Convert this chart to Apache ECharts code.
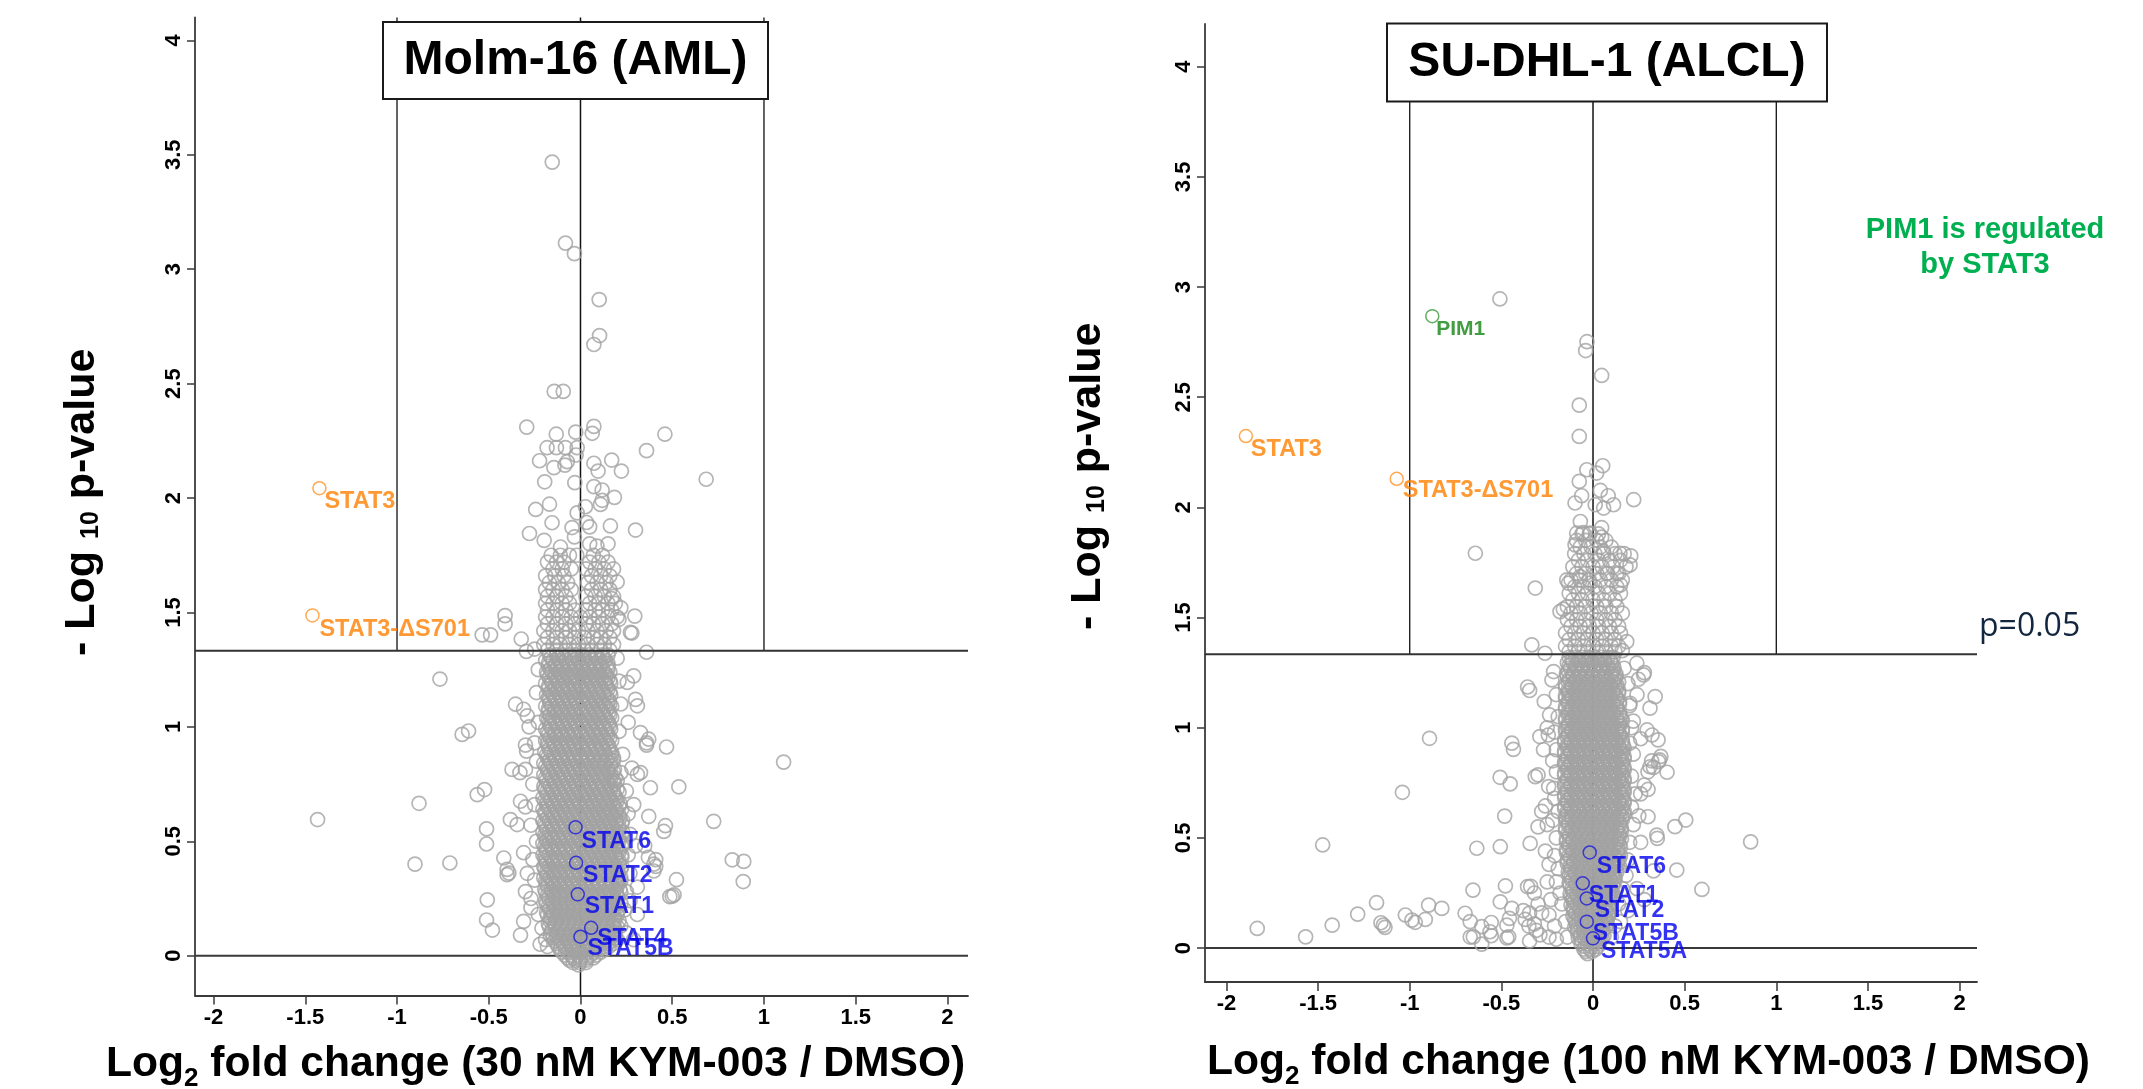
<!DOCTYPE html>
<html><head><meta charset="utf-8">
<script src="https://cdn.jsdelivr.net/npm/echarts@6/dist/echarts.min.js"></script>
<style>html,body{margin:0;padding:0;background:#fff}#c{width:2143px;height:1089px}</style>
</head><body><div id="c"></div>
<script>
// ================= DATA =================
const xTicks = [-2,-1.5,-1,-0.5,0,0.5,1,1.5,2];
const yTicks = [0,0.5,1,1.5,2,2.5,3,3.5,4];
const sigLineY = 1.333;          // p = 0.05 line as drawn
const fcLines = [-1, 1];         // fold-change guide lines
const titles = ['Molm-16 (AML)', 'SU-DHL-1 (ALCL)'];

// ---- Molm-16 : individual points ----
const molmOutliers = [
 [-0.154,3.468],[-0.082,3.114],[-0.033,3.068],[0.102,2.867],[0.104,2.71],[0.073,2.671],
 [-0.143,2.466],[-0.094,2.466],[-0.293,2.31],[-0.132,2.279],[-0.026,2.288],[0.073,2.313],[0.064,2.283],[0.46,2.279],[0.36,2.207],[0.685,2.082],
 [-0.182,2.22],[-0.131,2.22],[-0.082,2.22],[-0.018,2.22],[-0.223,2.163],[-0.145,2.133],[-0.085,2.144],[-0.072,2.159],[-0.024,2.188],[0.073,2.152],[0.096,2.118],[0.17,2.166],[0.223,2.118],
 [-0.195,2.071],[-0.031,2.067],[0.073,2.05],[0.118,2.035],[-0.244,1.95],[-0.169,1.973],[-0.018,1.935],[0.027,1.962],[0.109,1.972],[0.118,1.99],[0.185,2.003],
 [-0.155,1.892],[-0.046,1.871],[0.033,1.893],[0.05,1.874],[0.163,1.878],[0.3,1.86],[-0.278,1.845],[-0.198,1.815],[-0.109,1.786],[-0.033,1.83],[0.05,1.8],[0.09,1.79],[0.15,1.8],
 [0.2,1.633],[-0.411,1.486],[-0.411,1.45],[-0.536,1.402],[-0.49,1.402],[0.296,1.484],[0.272,1.413],[0.36,1.326],[-0.323,1.384],[-0.295,1.33],[-0.25,1.34],[0.28,1.41],[0.21,1.47],[0.22,1.52],[0.17,1.56],
 [-0.766,1.209],[0.29,1.223],[0.255,1.194],[0.31,1.092],[0.3,1.12],[-0.354,1.099],[-0.31,1.077],[-0.29,1.048],[-0.645,0.967],[-0.61,0.982],
 [-0.294,0.894],[-0.373,0.814],[-0.3,0.814],[-0.563,0.704],[-0.523,0.726],[-0.327,0.675],[-0.382,0.595],[-0.345,0.573],[-0.512,0.554],[-0.512,0.488],
 [-0.712,0.405],[-0.418,0.427],[-0.39,0.361],[-0.508,0.244],[-0.512,0.156],[-0.48,0.112],[-0.327,0.09],[-0.27,0.21],[-0.3,0.28],[-0.22,0.05],[-0.18,0.04],
 [0.469,0.912],[0.327,0.975],[0.372,0.946],[0.31,0.792],[0.327,0.8],[0.381,0.734],[0.536,0.738],[0.372,0.609],[0.463,0.568],[0.454,0.543],[0.726,0.587],
 [0.827,0.419],[0.89,0.412],[0.887,0.324],[0.41,0.42],[0.41,0.39],[0.523,0.332],[0.487,0.258],[0.51,0.266],[0.35,0.48],[0.37,0.43],[0.27,0.24],[0.31,0.18],[0.25,0.1],[0.29,0.07],
 [1.107,0.846],[-1.433,0.595],[-0.88,0.666],[-0.902,0.4],[-0.4,0.377],[-0.4,0.354],[0.36,0.93],[0.36,0.92],[0.4,0.4],[0.4,0.37],[0.5,0.26]
];
const molmHalo = [
 [-0.23,1.25],[-0.24,1.15],[-0.23,1.02],[-0.25,0.93],[-0.24,0.85],[-0.26,0.75],[-0.25,0.66],[-0.27,0.57],[-0.24,0.5],[-0.26,0.42],[-0.25,0.33],[-0.27,0.25],
 [-0.23,0.18],[-0.21,0.12],[-0.19,0.07],[-0.3,0.65],[-0.31,0.45],[-0.29,0.36],[-0.31,0.15],[-0.28,1.0],[-0.3,0.92],[-0.33,0.8],
 [0.2,1.3],[0.21,1.2],[0.22,1.1],[0.21,0.98],[0.23,0.88],[0.22,0.8],[0.25,0.72],[0.26,0.62],[0.27,0.53],[0.26,0.44],[0.27,0.36],[0.25,0.28],[0.24,0.2],
 [0.22,0.13],[0.2,0.07],[0.29,0.66],[0.3,0.48],[0.31,0.3],[0.26,1.02],[0.28,0.82]
];
// semi-dense band above the p line: [y, [x...]]
const molmBandRows = [
 [1.75,[-0.16,-0.11,-0.06,-0.02,0.07,0.12]],
 [1.72,[-0.18,-0.13,-0.09,0.05,0.1,0.15]],
 [1.69,[-0.15,-0.1,-0.05,0.03,0.08,0.13,0.18]],
 [1.66,[-0.19,-0.14,-0.09,0.06,0.11,0.16]],
 [1.63,[-0.17,-0.12,-0.07,0.04,0.09,0.14]],
 [1.60,[-0.19,-0.15,-0.1,-0.05,0.06,0.11,0.16]],
 [1.57,[-0.18,-0.13,-0.08,0.03,0.08,0.13,0.18]],
 [1.54,[-0.19,-0.15,-0.1,-0.06,0.05,0.1,0.15,0.19]],
 [1.51,[-0.18,-0.13,-0.08,-0.03,0.03,0.08,0.12,0.17]],
 [1.48,[-0.19,-0.15,-0.1,-0.05,0.0,0.05,0.1,0.15,0.2]],
 [1.45,[-0.18,-0.13,-0.08,-0.03,0.03,0.07,0.12,0.17]],
 [1.42,[-0.2,-0.15,-0.1,-0.06,-0.01,0.04,0.09,0.14,0.18]],
 [1.39,[-0.18,-0.13,-0.08,-0.03,0.02,0.07,0.11,0.16]],
 [1.36,[-0.2,-0.15,-0.11,-0.06,-0.01,0.04,0.09,0.13,0.18]],
 [1.335,[-0.18,-0.13,-0.08,-0.03,0.02,0.06,0.11,0.16]]
];
// dense core below the p line (heavily overlapping points): [y, [x...]]
const molmCoreRows = [
 [1.315,[-.17,-.13,-.1,-.06,-.03,.01,.045,.08,.12,.15]],
 [1.29,[-.19,-.15,-.115,-.08,-.045,-.01,.025,.06,.1,.135]],
 [1.265,[-.175,-.14,-.105,-.065,-.03,.005,.04,.075,.11,.15]],
 [1.24,[-.185,-.155,-.12,-.085,-.05,-.015,.02,.055,.095,.13,.16]],
 [1.215,[-.17,-.135,-.1,-.06,-.03,.01,.045,.08,.115,.15]],
 [1.19,[-.19,-.155,-.12,-.08,-.045,-.01,.025,.06,.1,.135,.165]],
 [1.165,[-.175,-.14,-.1,-.065,-.03,.005,.04,.08,.115,.15]],
 [1.14,[-.185,-.15,-.115,-.08,-.045,-.015,.02,.06,.095,.13,.165]],
 [1.115,[-.17,-.135,-.1,-.06,-.025,.01,.045,.08,.115,.155]],
 [1.09,[-.19,-.155,-.12,-.085,-.05,-.01,.025,.065,.1,.135,.17]],
 [1.065,[-.175,-.14,-.105,-.065,-.03,.005,.04,.08,.12,.155]],
 [1.04,[-.185,-.15,-.115,-.08,-.045,-.01,.025,.06,.1,.135,.17]],
 [1.015,[-.17,-.135,-.1,-.06,-.025,.01,.045,.085,.12,.155]],
 [0.99,[-.19,-.155,-.12,-.08,-.045,-.01,.025,.065,.1,.135,.165]],
 [0.965,[-.175,-.14,-.105,-.07,-.03,.005,.04,.08,.115,.15]],
 [0.94,[-.19,-.15,-.115,-.08,-.045,-.01,.025,.06,.1,.135,.17]],
 [0.915,[-.175,-.14,-.1,-.065,-.03,.01,.045,.08,.12,.155]],
 [0.89,[-.195,-.16,-.12,-.085,-.05,-.015,.02,.06,.095,.13,.17]],
 [0.865,[-.18,-.14,-.105,-.07,-.035,.005,.04,.075,.115,.15,.18]],
 [0.84,[-.2,-.16,-.125,-.09,-.05,-.015,.02,.055,.095,.13,.165]],
 [0.815,[-.18,-.145,-.11,-.07,-.035,0,.04,.075,.11,.15,.185]],
 [0.79,[-.2,-.165,-.125,-.09,-.055,-.02,.02,.055,.09,.13,.165]],
 [0.765,[-.185,-.145,-.11,-.075,-.04,0,.035,.07,.11,.145,.18,.2]],
 [0.74,[-.2,-.165,-.13,-.09,-.055,-.02,.015,.055,.09,.125,.165]],
 [0.715,[-.185,-.15,-.11,-.075,-.04,0,.035,.07,.11,.145,.18,.21]],
 [0.69,[-.205,-.165,-.13,-.095,-.06,-.02,.015,.05,.09,.125,.16,.195]],
 [0.665,[-.185,-.15,-.115,-.075,-.04,-.005,.035,.07,.105,.145,.18,.215]],
 [0.64,[-.205,-.17,-.13,-.095,-.06,-.025,.015,.05,.085,.125,.16,.195,.225]],
 [0.615,[-.19,-.15,-.115,-.08,-.04,-.005,.03,.07,.105,.14,.175,.21]],
 [0.59,[-.205,-.17,-.135,-.1,-.06,-.025,.01,.05,.085,.12,.16,.195,.23]],
 [0.565,[-.19,-.155,-.115,-.08,-.045,-.005,.03,.065,.105,.14,.175,.21]],
 [0.54,[-.205,-.17,-.135,-.1,-.06,-.025,.01,.045,.085,.12,.155,.195,.23]],
 [0.515,[-.19,-.155,-.12,-.08,-.045,-.01,.03,.065,.1,.14,.175,.21]],
 [0.49,[-.205,-.17,-.135,-.1,-.065,-.025,.01,.045,.085,.12,.155,.19,.23]],
 [0.465,[-.19,-.155,-.12,-.08,-.045,-.01,.025,.065,.1,.135,.175,.21]],
 [0.44,[-.205,-.17,-.135,-.1,-.065,-.03,.01,.045,.08,.12,.155,.19,.225]],
 [0.415,[-.19,-.155,-.12,-.085,-.045,-.01,.025,.06,.1,.135,.17,.21]],
 [0.39,[-.2,-.17,-.135,-.1,-.065,-.03,.005,.045,.08,.115,.155,.19,.225]],
 [0.365,[-.185,-.15,-.115,-.08,-.045,-.01,.025,.06,.1,.135,.17,.205]],
 [0.34,[-.2,-.165,-.13,-.1,-.065,-.03,.005,.04,.08,.115,.15,.19,.22]],
 [0.315,[-.185,-.15,-.115,-.08,-.045,-.01,.025,.06,.095,.135,.17,.205]],
 [0.29,[-.195,-.16,-.13,-.095,-.06,-.025,.01,.045,.08,.115,.155,.19,.215]],
 [0.265,[-.18,-.145,-.11,-.075,-.04,-.005,.03,.065,.1,.135,.17,.2]],
 [0.24,[-.19,-.155,-.12,-.085,-.05,-.015,.02,.055,.09,.125,.16,.195]],
 [0.215,[-.175,-.14,-.105,-.07,-.035,0,.035,.07,.105,.14,.175,.205]],
 [0.19,[-.185,-.15,-.115,-.08,-.045,-.01,.025,.06,.095,.13,.165,.2]],
 [0.165,[-.165,-.13,-.095,-.06,-.025,.01,.045,.08,.115,.15,.185]],
 [0.14,[-.175,-.14,-.105,-.07,-.035,0,.035,.07,.105,.14,.175]],
 [0.115,[-.155,-.12,-.085,-.05,-.015,.02,.055,.09,.125,.16,.19]],
 [0.09,[-.165,-.13,-.095,-.06,-.025,.01,.045,.08,.115,.15,.185]],
 [0.065,[-.14,-.105,-.07,-.035,0,.035,.07,.105,.14,.17]],
 [0.04,[-.12,-.085,-.05,-.015,.02,.055,.09,.125,.155]],
 [0.015,[-.1,-.065,-.03,.005,.04,.075,.11]],
 [-0.01,[-.07,-.035,0,.035,.07]],
 [-0.03,[-.04,-.005,.03]]
];
const molmCoreRows2 = [
 [1.3025,[-.16,-.12,-.085,-.05,-.015,.02,.055,.09,.125]],
 [1.2775,[-.175,-.135,-.1,-.06,-.025,.01,.045,.08,.115,.15]],
 [1.2525,[-.165,-.13,-.095,-.055,-.02,.015,.05,.085,.12,.15]],
 [1.2275,[-.18,-.14,-.105,-.07,-.035,0,.035,.07,.105,.14]],
 [1.2025,[-.16,-.125,-.09,-.05,-.015,.02,.055,.095,.13,.16]],
 [1.1775,[-.175,-.14,-.1,-.065,-.03,.005,.04,.075,.11,.145]],
 [1.1525,[-.16,-.125,-.09,-.055,-.02,.015,.05,.09,.125,.16]],
 [1.1275,[-.175,-.14,-.105,-.07,-.035,0,.035,.07,.105,.145]],
 [1.1025,[-.165,-.125,-.09,-.055,-.02,.015,.05,.09,.125,.16]],
 [1.0775,[-.175,-.14,-.105,-.07,-.035,0,.035,.07,.11,.145]],
 [1.0525,[-.165,-.125,-.09,-.055,-.02,.015,.05,.09,.125,.16]],
 [1.0275,[-.175,-.14,-.105,-.07,-.035,0,.035,.07,.11,.145]],
 [1.0025,[-.165,-.125,-.09,-.055,-.02,.015,.05,.09,.125,.16]],
 [0.9775,[-.18,-.14,-.105,-.07,-.035,0,.035,.07,.11,.145]],
 [0.9525,[-.165,-.13,-.095,-.055,-.02,.015,.05,.09,.125,.16]],
 [0.9275,[-.18,-.145,-.105,-.07,-.035,0,.035,.07,.11,.145]],
 [0.9025,[-.17,-.13,-.095,-.06,-.025,.01,.045,.085,.12,.155]],
 [0.8775,[-.185,-.145,-.11,-.075,-.04,-.005,.03,.065,.1,.135,.17]],
 [0.8525,[-.17,-.135,-.1,-.065,-.03,.005,.04,.075,.11,.145,.18]],
 [0.8275,[-.19,-.15,-.115,-.08,-.045,-.01,.025,.06,.095,.13,.165]],
 [0.8025,[-.175,-.135,-.1,-.065,-.03,.005,.04,.075,.115,.15,.18]],
 [0.7775,[-.19,-.155,-.12,-.085,-.05,-.01,.025,.06,.095,.13,.165,.19]],
 [0.7525,[-.175,-.14,-.1,-.065,-.03,.005,.045,.08,.115,.15,.185]],
 [0.7275,[-.195,-.155,-.12,-.085,-.05,-.015,.02,.06,.095,.13,.165,.2]],
 [0.7025,[-.18,-.14,-.105,-.07,-.035,.005,.04,.075,.11,.15,.185]],
 [0.6775,[-.195,-.16,-.125,-.09,-.05,-.015,.02,.055,.09,.125,.165,.2]],
 [0.6525,[-.18,-.145,-.11,-.075,-.04,0,.035,.07,.105,.145,.18,.21]],
 [0.6275,[-.195,-.16,-.125,-.09,-.055,-.02,.02,.055,.09,.125,.16,.195]],
 [0.6025,[-.18,-.145,-.11,-.075,-.04,0,.035,.07,.105,.14,.18,.215]],
 [0.5775,[-.195,-.16,-.125,-.09,-.055,-.02,.015,.05,.09,.125,.16,.195,.225]],
 [0.5525,[-.185,-.15,-.11,-.075,-.04,-.005,.03,.07,.105,.14,.175,.21]],
 [0.5275,[-.195,-.16,-.125,-.09,-.055,-.02,.015,.05,.085,.125,.16,.195,.225]],
 [0.5025,[-.185,-.15,-.115,-.075,-.04,-.005,.03,.065,.1,.14,.175,.21]],
 [0.4775,[-.195,-.16,-.125,-.09,-.055,-.02,.015,.05,.085,.12,.16,.195,.225]],
 [0.4525,[-.185,-.15,-.115,-.08,-.04,-.005,.03,.065,.1,.14,.175,.21]],
 [0.4275,[-.195,-.16,-.125,-.09,-.055,-.02,.015,.05,.085,.12,.155,.195,.225]],
 [0.4025,[-.185,-.15,-.115,-.08,-.04,-.005,.03,.065,.1,.135,.17,.21]],
 [0.3775,[-.195,-.16,-.125,-.09,-.055,-.02,.015,.05,.085,.12,.155,.19,.22]],
 [0.3525,[-.18,-.145,-.11,-.075,-.04,-.005,.03,.065,.1,.135,.17,.205]],
 [0.3275,[-.19,-.155,-.12,-.085,-.05,-.015,.02,.055,.09,.125,.16,.195,.22]],
 [0.3025,[-.18,-.145,-.11,-.075,-.04,-.005,.03,.065,.1,.135,.17,.2]],
 [0.2775,[-.19,-.155,-.12,-.085,-.05,-.015,.02,.055,.09,.125,.16,.195,.22]],
 [0.2525,[-.175,-.14,-.105,-.07,-.035,0,.035,.07,.105,.14,.175,.205]],
 [0.2275,[-.185,-.15,-.115,-.08,-.045,-.01,.025,.06,.095,.13,.165,.2,.22]],
 [0.2025,[-.17,-.135,-.1,-.065,-.03,.005,.04,.075,.11,.145,.18,.21]],
 [0.1775,[-.18,-.145,-.11,-.075,-.04,-.005,.03,.065,.1,.135,.17,.2]],
 [0.1525,[-.165,-.13,-.095,-.06,-.025,.01,.045,.08,.115,.15,.185,.21]],
 [0.1275,[-.17,-.135,-.1,-.065,-.03,.005,.04,.075,.11,.145,.18,.2]],
 [0.1025,[-.16,-.125,-.09,-.055,-.02,.015,.05,.085,.12,.155,.19]],
 [0.0775,[-.15,-.115,-.08,-.045,-.01,.025,.06,.095,.13,.165,.19]],
 [0.0525,[-.13,-.095,-.06,-.025,.01,.045,.08,.115,.15,.175]],
 [0.0275,[-.11,-.075,-.04,-.005,.03,.065,.1,.135]],
 [0.0025,[-.085,-.05,-.015,.02,.055,.085]],
 [-0.02,[-.06,-.03,0,.03]],
 [-0.04,[-.01]]
];
// highlighted genes: [name, x, y, colour group]
const molmHighlights = [
 ['STAT3',-1.423,2.043,'orange'],['STAT3-\u0394S701',-1.461,1.487,'orange'],
 ['STAT6',-0.027,0.561,'blue'],['STAT2',-0.024,0.406,'blue'],['STAT1',-0.015,0.268,'blue'],
 ['STAT4',0.058,0.122,'blue'],['STAT5B',0.0,0.083,'blue']
];

// ---- SU-DHL-1 : individual points ----
const sudhlOutliers = [
 [-0.508,2.946],[-0.033,2.752],[-0.04,2.712],[0.047,2.599],[-0.075,2.464],[-0.075,2.322],[-0.034,2.171],[0.02,2.156],[0.053,2.189],[-0.075,2.118],
 [-0.062,2.053],[-0.098,2.02],[0.04,2.077],[0.083,2.053],[0.012,2.012],[0.058,1.997],[0.112,2.012],[0.222,2.035],[-0.069,1.936],[-0.089,1.883],
 [-0.053,1.886],[-0.015,1.883],[0.047,1.908],[0.047,1.865],[-0.098,1.83],[-0.642,1.792],[0.056,1.8],[0.147,1.792],[0.206,1.78],[0.202,1.739],
 [-0.143,1.671],[-0.134,1.656],[-0.07,1.686],[-0.015,1.656],[0.075,1.701],[0.13,1.701],[0.15,1.648],[-0.162,1.538],[-0.18,1.527],[-0.315,1.634],
 [-0.334,1.376],[-0.262,1.338],[0.184,1.391],[0.239,1.293],[0.276,1.24],[0.248,1.22],[-0.215,1.255],[-0.224,1.217],[-0.357,1.185],[-0.346,1.169],
 [-0.266,1.119],[-0.237,1.058],[-0.892,0.952],[-0.443,0.93],[-0.434,0.902],[-0.29,0.96],[-0.244,0.967],[0.339,1.141],[0.311,1.089],[0.202,1.111],
 [0.295,0.99],[0.322,0.967],[0.355,0.945],[0.22,1.03],[0.363,0.854],[0.404,0.798],[0.3,0.8],[0.32,0.85],[0.28,0.74],[-0.507,0.775],[-0.452,0.745],
 [-0.315,0.778],[-0.3,0.786],[-0.242,0.733],[-0.215,0.725],[-0.482,0.599],[-0.26,0.645],[0.447,0.551],[0.506,0.581],[0.3,0.596],[0.348,0.513],
 [-0.3,0.55],[-0.25,0.56],[-0.343,0.475],[-0.506,0.46],[-0.634,0.453],[-0.655,0.263],[-0.478,0.282],[-0.506,0.21],[-0.607,0.097],[-0.562,0.074],
 [-0.653,0.051],[-0.607,0.018],[-0.47,0.104],[-0.456,0.135],[-0.443,0.18],[-0.47,0.046],[-0.34,0.28],[-0.32,0.25],[-0.3,0.2],[-0.28,0.16],
 [-0.32,0.11],[-0.31,0.08],[-0.29,0.06],[-0.38,0.17],[-0.37,0.13],[-0.35,0.1],[-0.24,0.15],[-0.21,0.1],[-0.24,0.05],[-0.2,0.04],
 [0.457,0.354],[0.594,0.266],[0.351,0.498],[0.357,0.846],[0.311,0.823],[0.26,0.7],[0.3,0.72],[0.26,0.48],[0.33,0.35],[0.24,0.27],[0.28,0.22],[0.19,0.17],[0.15,0.12],
 [-1.04,0.707],[-1.475,0.468],[-1.832,0.089],[-1.568,0.051],[-1.423,0.104],[-1.284,0.154],[-1.181,0.206],[-1.157,0.115],[-1.144,0.104],[-1.135,0.094],
 [-1.024,0.15],[-0.988,0.127],[-0.97,0.117],[-0.915,0.13],[-0.897,0.195],[-0.825,0.18],[-0.698,0.158],[-0.67,0.12],[-0.67,0.05],[0.86,0.482],
 [-0.357,0.279],[-0.555,0.116],[-0.555,0.056],[-0.46,0.051],[-0.346,0.032],[-0.346,0.159],[0.37,0.87],[0.33,0.82],[0.28,1.25]
];
const sudhlHalo = [
 [-0.2,1.15],[-0.19,1.05],[-0.21,0.98],[-0.2,0.9],[-0.22,0.85],[-0.2,0.8],[-0.21,0.68],[-0.19,0.62],[-0.22,0.58],[-0.2,0.5],[-0.21,0.42],[-0.19,0.36],
 [-0.2,0.3],[-0.18,0.25],[-0.17,0.2],[-0.15,0.12],[-0.14,0.05],[-0.26,0.44],[-0.24,0.38],[-0.25,0.3],[-0.23,0.22],[-0.27,0.9],[-0.25,1.0],[-0.28,0.62],
 [0.19,1.2],[0.2,1.1],[0.21,1.0],[0.2,0.93],[0.22,0.88],[0.21,0.78],[0.23,0.7],[0.21,0.64],[0.22,0.56],[0.2,0.48],[0.19,0.4],[0.18,0.33],[0.16,0.27],
 [0.14,0.2],[0.12,0.1],[0.1,0.05],[0.25,0.6],[0.26,0.95],[0.24,1.15],[0.17,1.27],[0.16,1.35]
];
const sudhlBandRows = [
 [1.88,[-0.06,-0.02,0.03]],
 [1.85,[-0.09,-0.04,0.02,0.07]],
 [1.82,[-0.07,-0.01,0.04,0.1]],
 [1.79,[-0.1,-0.05,0.01,0.06,0.12,0.17]],
 [1.76,[-0.08,-0.03,0.03,0.09,0.15]],
 [1.73,[-0.11,-0.06,0.0,0.05,0.11,0.18]],
 [1.70,[-0.09,-0.04,0.02,0.08,0.14]],
 [1.67,[-0.12,-0.07,-0.02,0.04,0.1,0.16]],
 [1.64,[-0.1,-0.05,0.01,0.07,0.13]],
 [1.61,[-0.13,-0.08,-0.03,0.03,0.09,0.15]],
 [1.58,[-0.11,-0.06,0.0,0.06,0.12]],
 [1.55,[-0.14,-0.09,-0.04,0.02,0.07,0.13]],
 [1.52,[-0.12,-0.07,-0.01,0.04,0.1,0.16]],
 [1.49,[-0.14,-0.09,-0.04,0.02,0.07,0.12]],
 [1.46,[-0.12,-0.07,-0.02,0.03,0.09,0.14]],
 [1.43,[-0.15,-0.1,-0.05,0.0,0.05,0.1,0.15]],
 [1.40,[-0.13,-0.08,-0.03,0.02,0.07,0.12]],
 [1.37,[-0.15,-0.1,-0.05,0.0,0.05,0.1,0.14]],
 [1.345,[-0.13,-0.08,-0.03,0.02,0.07,0.12]]
];
const sudhlCoreRows = [
 [1.32,[-.13,-.095,-.06,-.025,.01,.045,.08,.11]],
 [1.295,[-.14,-.11,-.075,-.04,-.005,.03,.065,.1]],
 [1.27,[-.125,-.09,-.055,-.02,.015,.05,.085,.115]],
 [1.245,[-.145,-.11,-.075,-.04,-.005,.03,.065,.1,.125]],
 [1.22,[-.13,-.095,-.06,-.025,.01,.045,.08,.115]],
 [1.195,[-.15,-.115,-.08,-.045,-.01,.025,.06,.095,.13]],
 [1.17,[-.135,-.1,-.065,-.03,.005,.04,.075,.11,.14]],
 [1.145,[-.15,-.115,-.08,-.045,-.01,.025,.06,.095,.125]],
 [1.12,[-.135,-.1,-.065,-.03,.005,.04,.075,.11,.145]],
 [1.095,[-.15,-.115,-.08,-.045,-.01,.025,.06,.095,.13]],
 [1.07,[-.135,-.1,-.065,-.03,.005,.04,.075,.11,.145]],
 [1.045,[-.15,-.115,-.08,-.045,-.01,.025,.06,.095,.13,.155]],
 [1.02,[-.135,-.1,-.065,-.03,.005,.04,.075,.11,.145]],
 [0.995,[-.15,-.115,-.08,-.045,-.01,.025,.06,.095,.13,.16]],
 [0.97,[-.135,-.1,-.065,-.03,.005,.04,.075,.11,.145]],
 [0.945,[-.155,-.12,-.085,-.05,-.015,.02,.055,.09,.125,.16]],
 [0.92,[-.14,-.105,-.07,-.035,0,.035,.07,.105,.14,.165]],
 [0.895,[-.155,-.12,-.085,-.05,-.015,.02,.055,.09,.125,.16]],
 [0.87,[-.14,-.105,-.07,-.035,0,.035,.07,.105,.14,.17]],
 [0.845,[-.155,-.12,-.085,-.05,-.015,.02,.055,.09,.125,.16]],
 [0.82,[-.14,-.105,-.07,-.035,0,.035,.07,.105,.14,.17]],
 [0.795,[-.155,-.12,-.085,-.05,-.015,.02,.055,.09,.125,.16]],
 [0.77,[-.14,-.105,-.07,-.035,0,.035,.07,.105,.14,.17]],
 [0.745,[-.155,-.12,-.085,-.05,-.015,.02,.055,.09,.125,.16]],
 [0.72,[-.14,-.105,-.07,-.035,0,.035,.07,.105,.14,.17]],
 [0.695,[-.155,-.12,-.085,-.05,-.015,.02,.055,.09,.125,.16]],
 [0.67,[-.14,-.105,-.07,-.035,0,.035,.07,.105,.14,.17]],
 [0.645,[-.155,-.12,-.085,-.05,-.015,.02,.055,.09,.125,.16]],
 [0.62,[-.14,-.105,-.07,-.035,0,.035,.07,.105,.14,.17]],
 [0.595,[-.15,-.115,-.08,-.045,-.01,.025,.06,.095,.13,.16]],
 [0.57,[-.135,-.1,-.065,-.03,.005,.04,.075,.11,.145]],
 [0.545,[-.15,-.115,-.08,-.045,-.01,.025,.06,.095,.13,.155]],
 [0.52,[-.135,-.1,-.065,-.03,.005,.04,.075,.11,.145]],
 [0.495,[-.145,-.11,-.075,-.04,-.005,.03,.065,.1,.135,.155]],
 [0.47,[-.13,-.095,-.06,-.025,.01,.045,.08,.115,.145]],
 [0.445,[-.145,-.11,-.075,-.04,-.005,.03,.065,.1,.135]],
 [0.42,[-.13,-.095,-.06,-.025,.01,.045,.08,.115,.15]],
 [0.395,[-.14,-.105,-.07,-.035,0,.035,.07,.105,.135]],
 [0.37,[-.125,-.09,-.055,-.02,.015,.05,.085,.12,.145]],
 [0.345,[-.135,-.1,-.065,-.03,.005,.04,.075,.11,.13]],
 [0.32,[-.12,-.085,-.05,-.015,.02,.055,.09,.12]],
 [0.295,[-.13,-.095,-.06,-.025,.01,.045,.08,.11]],
 [0.27,[-.115,-.08,-.045,-.01,.025,.06,.095,.12]],
 [0.245,[-.125,-.09,-.055,-.02,.015,.05,.085,.11]],
 [0.22,[-.11,-.075,-.04,-.005,.03,.065,.1]],
 [0.195,[-.12,-.085,-.05,-.015,.02,.055,.09]],
 [0.17,[-.105,-.07,-.035,0,.035,.07,.095]],
 [0.145,[-.11,-.075,-.04,-.005,.03,.065,.085]],
 [0.12,[-.095,-.06,-.025,.01,.045,.075]],
 [0.095,[-.1,-.065,-.03,.005,.04,.07]],
 [0.07,[-.085,-.05,-.015,.02,.05]],
 [0.045,[-.08,-.045,-.01,.025,.05]],
 [0.02,[-.065,-.03,.005,.035]],
 [-0.005,[-.05,-.015,.015]],
 [-0.025,[-.03]]
];
const sudhlCoreRows2 = [
 [1.3075,[-.115,-.08,-.045,-.01,.025,.06,.095]],
 [1.2825,[-.13,-.095,-.06,-.025,.01,.045,.08,.11]],
 [1.2575,[-.135,-.1,-.065,-.03,.005,.04,.075,.11]],
 [1.2325,[-.14,-.11,-.075,-.04,-.005,.03,.065,.1,.125]],
 [1.2075,[-.135,-.1,-.065,-.03,.005,.04,.075,.11,.14]],
 [1.1825,[-.15,-.115,-.08,-.045,-.01,.025,.06,.095,.13]],
 [1.1575,[-.135,-.1,-.065,-.03,.005,.04,.075,.11,.14]],
 [1.1325,[-.15,-.115,-.08,-.045,-.01,.025,.06,.095,.13]],
 [1.1075,[-.135,-.1,-.065,-.03,.005,.04,.075,.11,.145]],
 [1.0825,[-.15,-.115,-.08,-.045,-.01,.025,.06,.095,.13]],
 [1.0575,[-.135,-.1,-.065,-.03,.005,.04,.075,.11,.145]],
 [1.0325,[-.15,-.115,-.08,-.045,-.01,.025,.06,.095,.13,.16]],
 [1.0075,[-.135,-.1,-.065,-.03,.005,.04,.075,.11,.145]],
 [0.9825,[-.15,-.115,-.08,-.045,-.01,.025,.06,.095,.13,.16]],
 [0.9575,[-.14,-.1,-.065,-.03,.005,.04,.075,.11,.145]],
 [0.9325,[-.155,-.12,-.085,-.05,-.015,.02,.055,.09,.125,.16]],
 [0.9075,[-.14,-.1,-.065,-.03,.005,.04,.075,.11,.145,.17]],
 [0.8825,[-.155,-.12,-.085,-.05,-.015,.02,.055,.09,.125,.16]],
 [0.8575,[-.14,-.1,-.065,-.03,.005,.04,.075,.11,.145,.17]],
 [0.8325,[-.155,-.12,-.085,-.05,-.015,.02,.055,.09,.125,.16]],
 [0.8075,[-.14,-.1,-.065,-.03,.005,.04,.075,.11,.145,.17]],
 [0.7825,[-.155,-.12,-.085,-.05,-.015,.02,.055,.09,.125,.16]],
 [0.7575,[-.14,-.1,-.065,-.03,.005,.04,.075,.11,.145,.17]],
 [0.7325,[-.155,-.12,-.085,-.05,-.015,.02,.055,.09,.125,.16]],
 [0.7075,[-.14,-.1,-.065,-.03,.005,.04,.075,.11,.145,.17]],
 [0.6825,[-.155,-.12,-.085,-.05,-.015,.02,.055,.09,.125,.16]],
 [0.6575,[-.14,-.1,-.065,-.03,.005,.04,.075,.11,.145,.17]],
 [0.6325,[-.155,-.12,-.085,-.05,-.015,.02,.055,.09,.125,.16]],
 [0.6075,[-.14,-.1,-.065,-.03,.005,.04,.075,.11,.145,.17]],
 [0.5825,[-.15,-.115,-.08,-.045,-.01,.025,.06,.095,.13,.16]],
 [0.5575,[-.135,-.1,-.065,-.03,.005,.04,.075,.11,.145]],
 [0.5325,[-.15,-.115,-.08,-.045,-.01,.025,.06,.095,.13,.155]],
 [0.5075,[-.13,-.095,-.06,-.025,.01,.045,.08,.115,.145]],
 [0.4825,[-.145,-.11,-.075,-.04,-.005,.03,.065,.1,.135]],
 [0.4575,[-.13,-.095,-.06,-.025,.01,.045,.08,.115,.15]],
 [0.4325,[-.145,-.11,-.075,-.04,-.005,.03,.065,.1,.135]],
 [0.4075,[-.125,-.09,-.055,-.02,.015,.05,.085,.12,.145]],
 [0.3825,[-.14,-.105,-.07,-.035,0,.035,.07,.105,.135]],
 [0.3575,[-.12,-.085,-.05,-.015,.02,.055,.09,.125]],
 [0.3325,[-.13,-.095,-.06,-.025,.01,.045,.08,.115]],
 [0.3075,[-.115,-.08,-.045,-.01,.025,.06,.095,.12]],
 [0.2825,[-.125,-.09,-.055,-.02,.015,.05,.085,.11]],
 [0.2575,[-.11,-.075,-.04,-.005,.03,.065,.1]],
 [0.2325,[-.12,-.085,-.05,-.015,.02,.055,.09,.11]],
 [0.2075,[-.105,-.07,-.035,0,.035,.07,.095]],
 [0.1825,[-.11,-.075,-.04,-.005,.03,.065,.09]],
 [0.1575,[-.095,-.06,-.025,.01,.045,.08]],
 [0.1325,[-.1,-.065,-.03,.005,.04,.07]],
 [0.1075,[-.09,-.055,-.02,.015,.05,.075]],
 [0.0825,[-.085,-.05,-.015,.02,.055]],
 [0.0575,[-.07,-.035,0,.035,.06]],
 [0.0325,[-.06,-.025,.01,.04]],
 [0.0075,[-.045,-.01,.025]],
 [-0.015,[-.04,-.005]]
];
const sudhlHighlights = [
 ['PIM1',-0.877,2.868,'green'],['STAT3',-1.894,2.324,'orange'],['STAT3-\u0394S701',-1.071,2.13,'orange'],
 ['STAT6',-0.018,0.434,'blue'],['STAT1',-0.056,0.294,'blue'],['STAT2',-0.034,0.225,'blue'],
 ['STAT5B',-0.034,0.12,'blue'],['STAT5A',0.0,0.044,'blue']
];

// ================= STYLE / LAYOUT =================
const FONT = '"Liberation Sans", Arial, Helvetica, sans-serif';
const GRAY = '#a2a2a2';
const hiStyle = {
  orange:{ring:'#ff9326', text:'#ff8000', size:23.5},
  blue:{ring:'#1c1cdc', text:'#0000ee', size:23},
  green:{ring:'#3a9a3a', text:'#138313', size:21}
};
const labelOffsets = [
  {'STAT3':[5,13],'STAT3-\u0394S701':[7,14],'STAT6':[6,14],'STAT2':[7,13],'STAT1':[7,12],'STAT4':[6,11],'STAT5B':[7,12]},
  {'PIM1':[4,13],'STAT3':[5,13],'STAT3-\u0394S701':[6,12],'STAT6':[7,14],'STAT1':[6,12],'STAT2':[8,12],'STAT5B':[6,12],'STAT5A':[8,13]}
];
const ranges = [
  {xMin:-2.101, xMax:2.112, yMin:-0.174, yMax:4.1},
  {xMin:-2.117, xMax:2.095, yMin:-0.154, yMax:4.194}
];
const grids = [
  {left:195, top:17.5, width:773, height:978},
  {left:1205, top:24, width:772, height:958}
];

function flatten(rows){ const out=[]; rows.forEach(([y,xs])=>xs.forEach(x=>out.push([x,y]))); return out; }

const mctx = document.createElement('canvas').getContext('2d');
function tw(t, font){ mctx.font = font; return mctx.measureText(t).width; }

function composed(parts, x, y, rotation){
  let cx = 0; const children = [];
  parts.forEach(p=>{
    const font = 'bold ' + p.size + 'px ' + FONT;
    children.push({type:'text', style:{text:p.t, x:cx, y:(p.dy||0), font:font, fill:'#000',
      align:'left', verticalAlign:'middle', textAlign:'left', textVerticalAlign:'middle'}});
    cx += tw(p.t, font);
  });
  return {type:'group', x:x, y:y, rotation:rotation, children:children, z:100, silent:true};
}

function xAxisCfg(i){
  const r = ranges[i];
  return {type:'value', gridIndex:i, min:r.xMin, max:r.xMax,
    axisLine:{show:true, onZero:false, lineStyle:{color:'#3a3a3a', width:1.8}},
    axisTick:{show:true, customValues:xTicks, length:9, lineStyle:{color:'#3a3a3a', width:1.5}},
    axisLabel:{customValues:xTicks, margin:11, fontSize:22, fontWeight:'bold', color:'#000', fontFamily:FONT},
    splitLine:{show:false}};
}
function yAxisCfg(i){
  const r = ranges[i];
  return {type:'value', gridIndex:i, min:r.yMin, max:r.yMax,
    axisLine:{show:true, onZero:false, lineStyle:{color:'#3a3a3a', width:1.8}},
    axisTick:{show:true, customValues:yTicks, length:8, lineStyle:{color:'#3a3a3a', width:1.5}},
    axisLabel:{customValues:yTicks, rotate:90, margin:10, fontSize:22, fontWeight:'bold', color:'#000', fontFamily:FONT},
    splitLine:{show:false}};
}
function seg(i, pts, color, width, z){
  return {type:'line', xAxisIndex:i, yAxisIndex:i, data:pts, symbol:'none', silent:true,
    lineStyle:{color:color, width:width}, z:z, animation:false, clip:false};
}
function guideLines(i){
  const r = ranges[i];
  const out = [];
  fcLines.forEach(v=>out.push(seg(i, [[v,r.yMax],[v,sigLineY]], '#111', 1.3, 1)));
  out.push(seg(i, [[0,r.yMax],[0,r.yMin]], '#111', 1.5, 1));
  out.push(seg(i, [[r.xMin,0],[r.xMax,0]], '#3a3a3a', 2, 1));
  out.push(seg(i, [[r.xMin,sigLineY],[r.xMax,sigLineY]], '#333', 2, 4));
  return out;
}
function grayScatter(i, arrs){
  let data = [];
  arrs.forEach(a=>{ data = data.concat(a); });
  return {type:'scatter', xAxisIndex:i, yAxisIndex:i, data:data, symbol:'circle', symbolSize:14,
    itemStyle:{color:'rgba(0,0,0,0)', borderColor:GRAY, borderWidth:1.7},
    silent:true, z:3, animation:false, progressive:0, large:false};
}
function hiScatter(i, list){
  const offs = labelOffsets[i];
  return {type:'scatter', xAxisIndex:i, yAxisIndex:i, symbol:'circle', symbolSize:13, silent:true, z:6,
    animation:false, progressive:0,
    data:list.map(([name,x,y,g])=>({name:name, value:[x,y],
      itemStyle:{color:'rgba(0,0,0,0)', borderColor:hiStyle[g].ring, borderWidth:1.5},
      label:{show:true, formatter:'{b}', position:'inside', align:'left', verticalAlign:'middle',
        offset:offs[name]||[6,12], color:hiStyle[g].text, fontSize:hiStyle[g].size, fontWeight:'bold',
        fontFamily:FONT, textBorderWidth:0}}))};
}

const chart = echarts.init(document.getElementById('c'), null, {renderer:'canvas', width:2143, height:1089});

const txt = (s)=>Object.assign({align:'center', verticalAlign:'middle', textAlign:'center', textVerticalAlign:'middle'}, s);
const graphics = [
  {type:'rect', shape:{x:383, y:22, width:385, height:77}, style:{fill:'#fff', stroke:'#1a1a1a', lineWidth:2}, z:50, silent:true},
  {type:'text', style:txt({text:titles[0], x:575.5, y:61, font:'bold 48px ' + FONT, fill:'#000'}), z:51, silent:true},
  {type:'rect', shape:{x:1387, y:23.5, width:440, height:78}, style:{fill:'#fff', stroke:'#1a1a1a', lineWidth:2}, z:50, silent:true},
  {type:'text', style:txt({text:titles[1], x:1607, y:62.5, font:'bold 48px ' + FONT, fill:'#000'}), z:51, silent:true},
  composed([{t:'Log',size:42.6},{t:'2',size:26,dy:15},{t:' fold change (30 nM KYM-003 / DMSO)',size:42.6}], 106, 1064, 0),
  composed([{t:'Log',size:42.6},{t:'2',size:26,dy:15},{t:' fold change (100 nM KYM-003 / DMSO)',size:42.6}], 1207, 1062, 0),
  composed([{t:'- Log ',size:43},{t:'10',size:25,dy:9},{t:' p-value',size:43}], 82, 656, Math.PI/2),
  composed([{t:'- Log ',size:43},{t:'10',size:25,dy:9},{t:' p-value',size:43}], 1088, 630, Math.PI/2),
  {type:'text', style:{text:'p=0.05', x:1979, y:627, font:'32px "Open Sans", "Noto Sans", sans-serif', fill:'#12263f', align:'left', verticalAlign:'middle', textAlign:'left', textVerticalAlign:'middle'}, z:60, silent:true},
  {type:'text', style:txt({text:'PIM1 is regulated', x:1985, y:230, font:'bold 29px ' + FONT, fill:'#00b050'}), z:60, silent:true},
  {type:'text', style:txt({text:'by STAT3', x:1985, y:265, font:'bold 29px ' + FONT, fill:'#00b050'}), z:60, silent:true}
];

chart.setOption({
  animation:false,
  backgroundColor:'#fff',
  grid: grids.map(g=>Object.assign({containLabel:false, outerBoundsMode:'none'}, g)),
  xAxis:[xAxisCfg(0), xAxisCfg(1)],
  yAxis:[yAxisCfg(0), yAxisCfg(1)],
  series:[
    ...guideLines(0), ...guideLines(1),
    grayScatter(0, [molmOutliers, molmHalo, flatten(molmBandRows), flatten(molmCoreRows), flatten(molmCoreRows2)]),
    grayScatter(1, [sudhlOutliers, sudhlHalo, flatten(sudhlBandRows), flatten(sudhlCoreRows), flatten(sudhlCoreRows2)]),
    hiScatter(0, molmHighlights),
    hiScatter(1, sudhlHighlights)
  ],
  graphic: graphics
});
</script>
</body></html>
